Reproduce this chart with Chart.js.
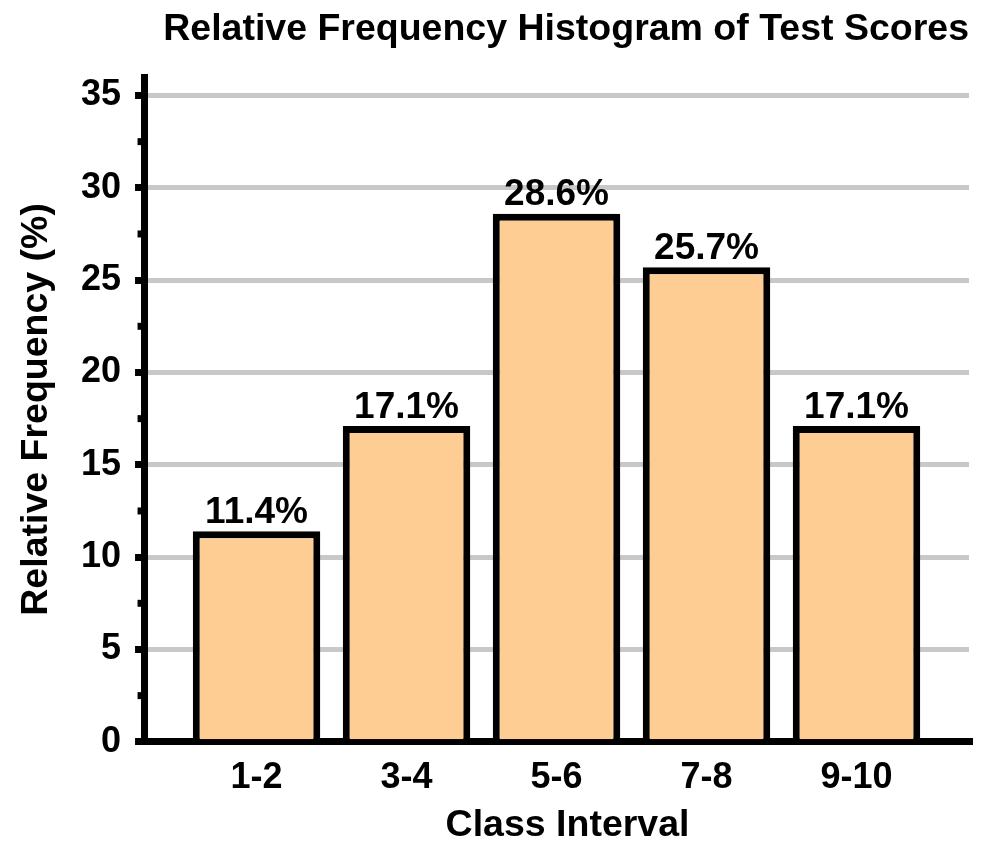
<!DOCTYPE html>
<html>
<head>
<meta charset="utf-8">
<script src="https://cdn.jsdelivr.net/npm/chart.js@4"></script>
<style>
  html, body { margin: 0; padding: 0; background: #ffffff; }
  #wrap { width: 1000px; height: 863px; }
</style>
</head>
<body>
<div id="wrap"><canvas id="c" width="1000" height="863"></canvas></div>
<script>
// ---- data ----
const categories = ['1-2', '3-4', '5-6', '7-8', '9-10'];
const classMidpoints = [1.5, 3.5, 5.5, 7.5, 9.5];
const relativeFrequency = [11.4, 17.1, 28.6, 25.7, 17.1];
const yTickValues = [0, 5, 10, 15, 20, 25, 30, 35];
const yMinorTickValues = [2.5, 7.5, 12.5, 17.5, 22.5, 27.5, 32.5];
const xAxisTitle = 'Class Interval';

const FONT = "'Liberation Sans', Arial, Helvetica, sans-serif";

const points = classMidpoints.map((x, i) => ({ x: x, y: relativeFrequency[i] }));

const valueLabels = {
  id: 'valueLabels',
  afterDatasetsDraw(chart) {
    const ctx = chart.ctx;
    const meta = chart.getDatasetMeta(0);
    ctx.save();
    ctx.font = 'bold 37px ' + FONT;
    ctx.fillStyle = '#000';
    ctx.textAlign = 'center';
    ctx.textBaseline = 'alphabetic';
    meta.data.forEach((bar, i) => {
      ctx.fillText(relativeFrequency[i].toFixed(1) + '%', bar.x, bar.y - 8.5);
    });
    ctx.restore();
  }
};

const minorTicks = {
  id: 'minorTicks',
  afterDraw(chart) {
    const ctx = chart.ctx;
    const ys = chart.scales.y;
    const left = chart.chartArea.left - 3.5;
    ctx.save();
    ctx.strokeStyle = '#000';
    ctx.lineWidth = 7;
    ctx.lineCap = 'butt';
    yMinorTickValues.forEach(v => {
      const py = ys.getPixelForValue(v);
      ctx.beginPath();
      ctx.moveTo(left + 1, py);
      ctx.lineTo(left - 3, py);
      ctx.stroke();
    });
    ctx.restore();
  }
};

const xTitle = {
  id: 'xTitle',
  afterDraw(chart) {
    const ctx = chart.ctx;
    const area = chart.chartArea;
    ctx.save();
    ctx.font = 'bold 37.5px ' + FONT;
    ctx.fillStyle = '#000';
    ctx.textAlign = 'center';
    ctx.textBaseline = 'middle';
    ctx.fillText(xAxisTitle, (area.left + area.right) / 2 + 11, chart.scales.x.bottom + 11);
    ctx.restore();
  }
};

new Chart(document.getElementById('c'), {
  type: 'bar',
  data: {
    datasets: [{
      data: points,
      backgroundColor: '#FECD94',
      borderColor: '#000000',
      borderWidth: 7,
      borderSkipped: 'start',
      barPercentage: 1.0,
      categoryPercentage: 0.85
    }]
  },
  plugins: [valueLabels, minorTicks, xTitle],
  options: {
    responsive: false,
    animation: false,
    devicePixelRatio: 1,
    layout: { padding: { left: 10, right: 31, top: 0, bottom: 48 } },
    plugins: {
      legend: { display: false },
      tooltip: { enabled: false },
      title: {
        display: true,
        text: 'Relative Frequency Histogram of Test Scores',
        align: 'end',
        color: '#000',
        font: { family: FONT, size: 37.5, weight: 'bold', lineHeight: 1.2 },
        padding: { top: 7, bottom: 25 }
      }
    },
    scales: {
      x: {
        type: 'linear',
        min: 0,
        max: 11,
        offset: false,
        afterBuildTicks: (scale) => {
          scale.ticks = classMidpoints.map(v => ({ value: v }));
        },
        ticks: {
          color: '#000',
          font: { family: FONT, size: 36, weight: 'bold', lineHeight: 1.2 },
          padding: 15,
          maxRotation: 0,
          autoSkip: false,
          callback: (value, index) => categories[index]
        },
        grid: { display: false, drawTicks: false, lineWidth: 7 },
        border: { display: true, color: '#000', width: 7 },
        title: { display: false }
      },
      y: {
        type: 'linear',
        min: 0,
        max: 36,
        afterBuildTicks: (scale) => {
          scale.ticks = yTickValues.map(v => ({ value: v }));
        },
        ticks: {
          color: '#000',
          font: { family: FONT, size: 36, weight: 'bold', lineHeight: 1.2 },
          padding: 14
        },
        grid: {
          color: '#C8C8C8',
          lineWidth: 5,
          drawTicks: true,
          tickLength: 9,
          tickColor: '#000',
          tickWidth: 7
        },
        border: { display: true, color: '#000', width: 7 },
        title: {
          display: true,
          text: 'Relative Frequency (%)',
          color: '#000',
          font: { family: FONT, size: 37.5, weight: 'bold', lineHeight: 1.2 },
          padding: { top: 4, bottom: 8 }
        }
      }
    }
  }
});
</script>
</body>
</html>
